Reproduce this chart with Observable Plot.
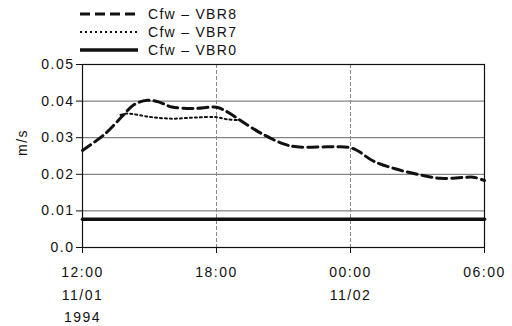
<!DOCTYPE html>
<html>
<head>
<meta charset="utf-8">
<script src="https://cdn.jsdelivr.net/npm/d3@7"></script>
<script src="https://cdn.jsdelivr.net/npm/@observablehq/plot@0.6"></script>
<style>
  html, body { margin: 0; padding: 0; background: white; }
  #wrap { position: relative; width: 512px; height: 326px; font-family: "Liberation Sans", Arial, sans-serif; }
  #legend { position: absolute; left: 80px; top: 5px; font-size: 14px; color: #111; }
  #legend .row { height: 18px; display: flex; align-items: center; }
  #legend svg { width: 60px; height: 8px; margin-right: 8px; }
  #legend span { letter-spacing: 1.3px; }
</style>
</head>
<body>
<div id="wrap">
  <div id="legend"></div>
</div>
<script>
// hours after 1994-11-01 12:00
const vbr8Hours = [0, 1, 1.8, 2.3, 2.9, 3.4, 4.0, 5.0, 6.0, 6.5, 7.0, 8.0, 9.0, 9.6, 11.0, 11.9, 12.3, 13.0, 14.0, 15.0, 16.0, 17.0, 17.5, 18.0];
const vbr8Values = [0.0265, 0.031, 0.036, 0.0390, 0.0402, 0.0398, 0.0384, 0.0380, 0.0383, 0.0370, 0.0350, 0.0312, 0.0283, 0.0275, 0.0275, 0.0274, 0.0265, 0.0237, 0.0215, 0.0200, 0.0189, 0.0191, 0.0192, 0.0183];
const vbr7Hours = [1.7, 2.0, 3.0, 4.0, 5.0, 6.0, 6.5, 7.0];
const vbr7Values = [0.0362, 0.0366, 0.0357, 0.0352, 0.0355, 0.0356, 0.0350, 0.0348];
const vbr0Hours = [0, 18];
const vbr0Values = [0.0077, 0.0077];

const seriesNames = ["Cfw \u2013 VBR8", "Cfw \u2013 VBR7", "Cfw \u2013 VBR0"];
const yTicks = [0, 0.01, 0.02, 0.03, 0.04, 0.05];
const yTickLabels = ["0.0", "0.01", "0.02", "0.03", "0.04", "0.05"];
const xTickHours = [0, 6, 12, 18];
const xTickLabels = ["12:00\n11/01\n1994", "18:00", "00:00\n11/02", "06:00"];
const yLabel = "m/s";

const base = Date.UTC(1994, 10, 1, 12);
const toDate = h => new Date(base + h * 3600e3);
const rows = (hs, vs) => hs.map((h, i) => ({t: toDate(h), v: vs[i]}));

const d8 = rows(vbr8Hours, vbr8Values);
const d7 = rows(vbr7Hours, vbr7Values);
const d0 = rows(vbr0Hours, vbr0Values);
const xTicks = xTickHours.map(toDate);
const xLabelMap = new Map(xTicks.map((d, i) => [+d, xTickLabels[i]]));
const yLabelMap = new Map(yTicks.map((d, i) => [d, yTickLabels[i]]));

const styles = [
  {strokeWidth: 3, strokeDasharray: "10,5"},
  {strokeWidth: 2, strokeDasharray: "2,3"},
  {strokeWidth: 3.5, strokeDasharray: null}
];

const chart = Plot.plot({
  width: 512,
  height: 326,
  marginLeft: 82,
  marginRight: 28,
  marginTop: 64,
  marginBottom: 79,
  style: {fontFamily: "'Liberation Sans', Arial, sans-serif", fontSize: "14px", background: "white", color: "#111", overflow: "visible", letterSpacing: "1.5px"},
  x: {type: "utc", domain: [toDate(0), toDate(18)]},
  y: {domain: [0, 0.05]},
  marks: [
    Plot.gridY([0.01, 0.02, 0.03, 0.04], {stroke: "#666", strokeOpacity: 1, strokeWidth: 1}),
    Plot.gridX([toDate(6), toDate(12)], {stroke: "#888", strokeOpacity: 1, strokeWidth: 1, strokeDasharray: "4,2"}),
    Plot.frame({stroke: "#111", strokeWidth: 1.2}),
    Plot.axisY({ticks: yTicks, tickFormat: d => yLabelMap.get(d), tickSize: 6, tickPadding: 2, label: null, stroke: "#111"}),
    Plot.axisX({ticks: xTicks, tickFormat: d => xLabelMap.get(+d), tickSize: 6, tickPadding: 8, label: null, lineHeight: 1.6, stroke: "#111"}),
    Plot.text([yLabel], {frameAnchor: "left", rotate: -90, dx: -60, fontSize: 14}),
    Plot.line(d0, {x: "t", y: "v", stroke: "#111", strokeWidth: styles[2].strokeWidth}),
    Plot.line(d7, {x: "t", y: "v", stroke: "#111", strokeWidth: styles[1].strokeWidth, strokeDasharray: styles[1].strokeDasharray, curve: "catmull-rom"}),
    Plot.line(d8, {x: "t", y: "v", stroke: "#111", strokeWidth: styles[0].strokeWidth, strokeDasharray: styles[0].strokeDasharray, curve: "catmull-rom"})
  ]
});
document.getElementById("wrap").appendChild(chart);
chart.style.position = "absolute";
chart.style.left = "0";
chart.style.top = "0";

const legend = document.getElementById("legend");
legend.style.zIndex = 2;
seriesNames.forEach((name, i) => {
  const row = document.createElement("div");
  row.className = "row";
  const s = styles[i];
  row.innerHTML = `<svg viewBox="0 0 60 8"><line x1="0" y1="4" x2="58" y2="4" stroke="#111" stroke-width="${s.strokeWidth}" ${s.strokeDasharray ? `stroke-dasharray="${s.strokeDasharray}"` : ""}/></svg><span>${name}</span>`;
  legend.appendChild(row);
});
</script>
</body>
</html>
